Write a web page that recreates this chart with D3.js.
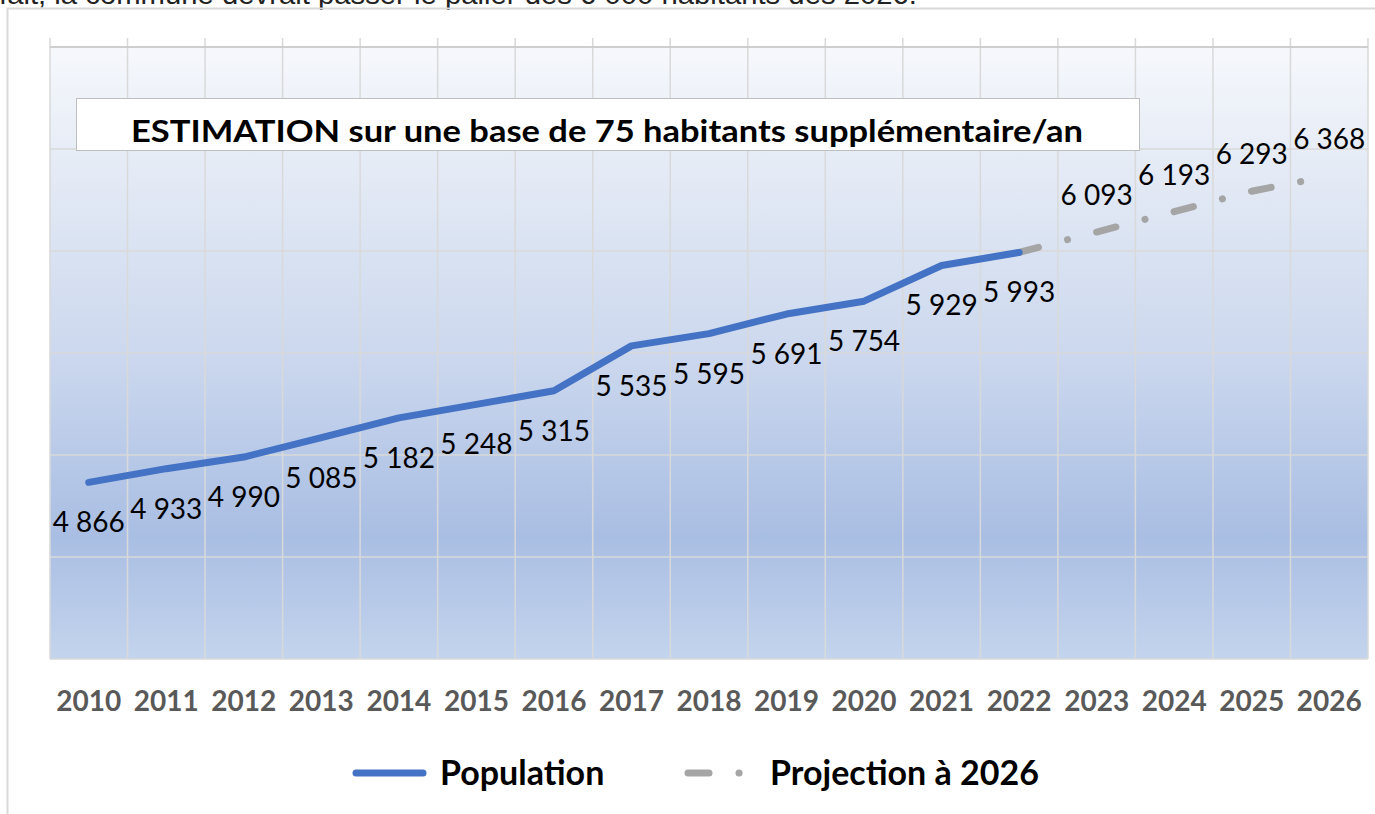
<!DOCTYPE html>
<html>
<head>
<meta charset="utf-8">
<script src="https://cdn.jsdelivr.net/npm/d3@7"></script>
<style>
  html, body { margin: 0; padding: 0; background: #fff; overflow: hidden; }
  svg { display: block; }
</style>
</head>
<body>
<svg id="chart" width="1375" height="814"></svg>
<script>
// data
const years = ["2010", "2011", "2012", "2013", "2014", "2015", "2016", "2017", "2018",
  "2019", "2020", "2021", "2022", "2023", "2024", "2025", "2026"];
const populationYears = years.slice(0, 13);
const population = [4866, 4933, 4990, 5085, 5182, 5248, 5315, 5535, 5595, 5691, 5754, 5929, 5993];
const projectionYears = ["2022", "2023", "2024", "2025", "2026"];
const projection = [5993, 6093, 6193, 6293, 6368];
const yTicks = [4000, 4500, 5000, 5500, 6000, 6500, 7000];
const chartTitle = "ESTIMATION sur une base de 75 habitants supplémentaire/an";
const introText = "fait, la commune devrait passer le palier des 6 000 habitants dès 2026.";
const legendLabels = ["Population", "Projection à 2026"];

const blue = "#4472C4";
const gray = "#A5A5A5";
const gridColor = "#d9d9d9";
const chartFont = "Lato, 'Open Sans', sans-serif";

const svg = d3.select("#chart");

const plot = { left: 50, right: 1368, top: 47, bottom: 659 };

const x = d3.scaleBand().domain(years).range([plot.left, plot.right]).padding(0);
const y = d3.scaleLinear().domain([4000, 7000]).range([plot.bottom, plot.top]);
const cx = (yr) => x(yr) + x.bandwidth() / 2;

// cut-off text from the document above the chart
svg.append("text")
  .attr("x", -1)
  .attr("y", 4)
  .attr("font-family", "'Liberation Sans', Arial, sans-serif")
  .attr("font-size", 27)
  .attr("fill", "#222")
  .attr("textLength", 918)
  .attr("lengthAdjust", "spacingAndGlyphs")
  .text(introText);

// chart frame
svg.append("path")
  .attr("d", "M7.5,814 V8.5 H1375")
  .attr("fill", "none")
  .attr("stroke", gridColor)
  .attr("stroke-width", 2);

// plot background gradient
const defs = svg.append("defs");
const grad = defs.append("linearGradient")
  .attr("id", "bg")
  .attr("x1", 0).attr("y1", 0).attr("x2", 0).attr("y2", 1);
[[0, "#f6f8fc"], [0.18, "#e6ecf6"], [0.5, "#ccd8ee"], [0.8, "#a9bee3"], [1, "#c4d4ed"]]
  .forEach(([o, c]) => grad.append("stop").attr("offset", o).attr("stop-color", c));

svg.append("rect")
  .attr("x", plot.left)
  .attr("y", plot.top)
  .attr("width", plot.right - plot.left)
  .attr("height", plot.bottom - plot.top)
  .attr("fill", "url(#bg)");

// horizontal gridlines
svg.append("g")
  .selectAll("line")
  .data(yTicks)
  .enter()
  .append("line")
  .attr("x1", plot.left)
  .attr("x2", plot.right)
  .attr("y1", (d) => y(d))
  .attr("y2", (d) => y(d))
  .attr("stroke", gridColor)
  .attr("stroke-width", 1.5);

// vertical gridlines at band edges, with small ticks above the top
const edges = years.map((d) => x(d)).concat([plot.right]);
svg.append("g")
  .selectAll("line")
  .data(edges)
  .enter()
  .append("line")
  .attr("x1", (d) => d)
  .attr("x2", (d) => d)
  .attr("y1", plot.top - 9)
  .attr("y2", plot.bottom)
  .attr("stroke", gridColor)
  .attr("stroke-width", 1.5);

svg.append("line")
  .attr("x1", plot.left)
  .attr("x2", plot.right)
  .attr("y1", plot.top)
  .attr("y2", plot.top)
  .attr("stroke", "#c8c8c8")
  .attr("stroke-width", 1.5);

// category labels
svg.append("g")
  .selectAll("text")
  .data(years)
  .enter()
  .append("text")
  .attr("x", (d) => cx(d))
  .attr("y", 711)
  .attr("text-anchor", "middle")
  .attr("font-family", chartFont)
  .attr("font-weight", "bold")
  .attr("font-size", 28)
  .attr("fill", "#595959")
  .text((d) => d);

// title box
svg.append("rect")
  .attr("x", 76.5)
  .attr("y", 98.5)
  .attr("width", 1063)
  .attr("height", 52)
  .attr("fill", "#fff")
  .attr("stroke", "#bfbfbf")
  .attr("stroke-width", 1);

svg.append("text")
  .attr("x", 131)
  .attr("y", 142)
  .attr("font-family", chartFont)
  .attr("font-weight", "bold")
  .attr("font-size", 31)
  .attr("fill", "#000")
  .attr("textLength", 952)
  .attr("lengthAdjust", "spacingAndGlyphs")
  .text(chartTitle);

const line = d3.line().x((d) => cx(d.year)).y((d) => y(d.value));

const popData = populationYears.map((yr, i) => ({ year: yr, value: population[i] }));
const projData = projectionYears.map((yr, i) => ({ year: yr, value: projection[i] }));

// projection (dash-dot)
svg.append("path")
  .datum(projData)
  .attr("d", line)
  .attr("fill", "none")
  .attr("stroke", gray)
  .attr("stroke-width", 7)
  .attr("stroke-linecap", "round")
  .attr("stroke-dasharray", "20,30,0.1,30");

// population
svg.append("path")
  .datum(popData)
  .attr("d", line)
  .attr("fill", "none")
  .attr("stroke", blue)
  .attr("stroke-width", 7)
  .attr("stroke-linecap", "round")
  .attr("stroke-linejoin", "round");

const fmt = (v) => d3.format(",")(v).replace(",", " ");

// labels below population points
svg.append("g")
  .selectAll("text")
  .data(popData)
  .enter()
  .append("text")
  .attr("x", (d) => cx(d.year))
  .attr("y", (d) => y(d.value) + 50)
  .attr("text-anchor", "middle")
  .attr("font-family", chartFont)
  .attr("font-size", 28)
  .attr("fill", "#000")
  .text((d) => fmt(d.value));

// labels above projection points (2022 already labelled)
svg.append("g")
  .selectAll("text")
  .data(projData.slice(1))
  .enter()
  .append("text")
  .attr("x", (d) => cx(d.year))
  .attr("y", (d) => y(d.value) - 27)
  .attr("text-anchor", "middle")
  .attr("font-family", chartFont)
  .attr("font-size", 28)
  .attr("fill", "#000")
  .text((d) => fmt(d.value));

// legend
const legendY = 773;
svg.append("line")
  .attr("x1", 356).attr("x2", 423)
  .attr("y1", legendY).attr("y2", legendY)
  .attr("stroke", blue)
  .attr("stroke-width", 7)
  .attr("stroke-linecap", "round");
svg.append("text")
  .attr("x", 440)
  .attr("y", legendY + 12)
  .attr("font-family", chartFont)
  .attr("font-weight", "bold")
  .attr("font-size", 34)
  .attr("fill", "#000")
  .text(legendLabels[0]);

svg.append("line")
  .attr("x1", 688).attr("x2", 742)
  .attr("y1", legendY).attr("y2", legendY)
  .attr("stroke", gray)
  .attr("stroke-width", 7)
  .attr("stroke-linecap", "round")
  .attr("stroke-dasharray", "21,30,0.1,30");
svg.append("text")
  .attr("x", 770)
  .attr("y", legendY + 12)
  .attr("font-family", chartFont)
  .attr("font-weight", "bold")
  .attr("font-size", 34)
  .attr("fill", "#000")
  .text(legendLabels[1]);
</script>
</body>
</html>
